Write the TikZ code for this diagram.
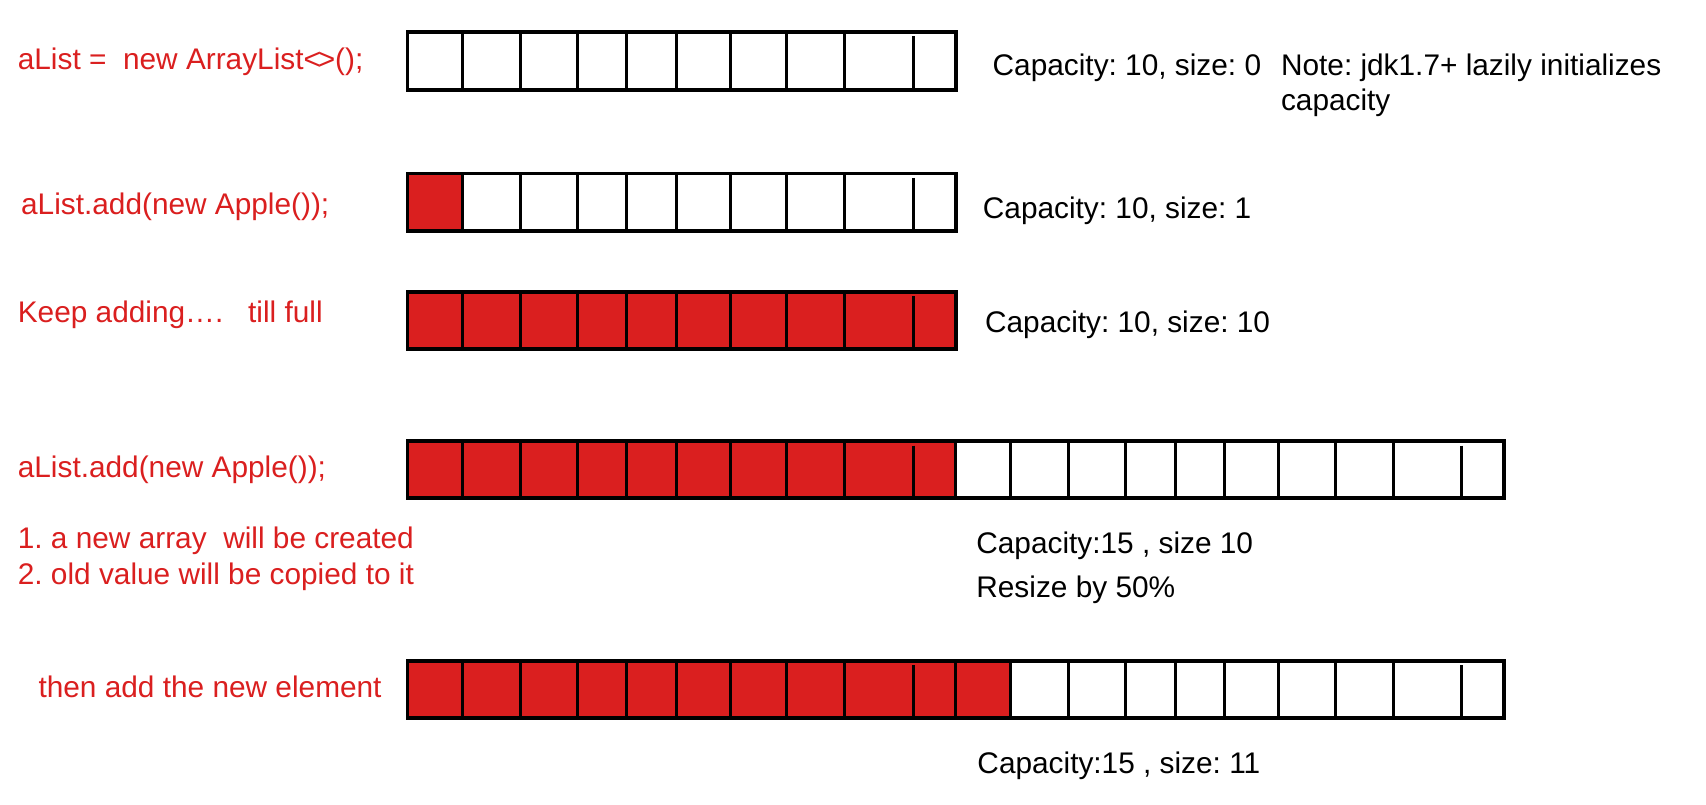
\documentclass[tikz,border=0pt]{standalone}
\usepackage{fontspec}
\setmainfont{Liberation Sans}
\frenchspacing
\definecolor{cred}{RGB}{218,31,31}
\newcommand\fs{\fontsize{13.7}{17}\selectfont}
\def\xs{{374.5,424.95,478.07,530.54,576.05,621.51,671.00,723.12,776.59,839.34,878.5,928.95,982.07,1034.54,1080.05,1125.51,1175.00,1227.12,1280.59,1343.34,1382.5}}
\newcommand\myarr[4]{% #1 top, #2 bottom, #3 cells, #4 red cells
  \pgfmathsetmacro\xred{\xs[#4]}%
  \pgfmathsetmacro\xend{\xs[#3]}%
  \pgfmathtruncatemacro\lastdiv{#3-1}%
  \ifnum#4>0 \fill[cred] (374.5,#1) rectangle (\xred,#2);\fi
  \foreach \i in {1,...,\lastdiv}{%
    \pgfmathsetmacro\xx{\xs[\i]}%
    \pgfmathsetmacro\ytop{(mod(\i,10)==9) ? #1+4 : #1}%
    \draw[divider] (\xx,\ytop) -- (\xx,#2);
  }%
  \draw[outerbox] (374.5,#1) rectangle (\xend,#2);
}
\begin{document}
\begin{tikzpicture}[x=0.5pt,y=-0.5pt,
  divider/.style={line width=1.4pt,black},
  outerbox/.style={line width=1.8pt,black},
  redtxt/.style={text=cred,anchor=base west,inner sep=0pt,font=\fs},
  blktxt/.style={text=black,anchor=base west,inner sep=0pt,font=\fs}]
\useasboundingbox (0,0) rectangle (1568,739);
% arrays
\myarr{29.5}{82.5}{10}{0}
\myarr{159.5}{212.5}{10}{1}
\myarr{268.5}{320.5}{10}{10}
\myarr{405.5}{457.5}{20}{10}
\myarr{607.5}{659.5}{20}{11}
% red labels
\node[redtxt] (l1) at (16,64) {aList =\ \ new ArrayList<\kern-1.5pt>();};
\node[redtxt] (l2) at (19,197) {aList.add(new Apple());};
\node[redtxt] (l3) at (16,296) {Keep adding….\ \ \ till full};
\node[redtxt] (l4) at (16,439) {aList.add(new Apple());};
\node[redtxt] (l5) at (16,504) {1. a new array\ \ will be created};
\node[redtxt] (l6) at (16,537) {2. old value will be copied to it};
\node[redtxt] (l7) at (35,641) {then add the new element};
% black labels
\node[blktxt] (c1) at (912,69) {Capacity: 10, size: 0};
\node[blktxt] (n1) at (1177,69) {Note: jdk1.7+ lazily initializes};
\node[blktxt] (n2) at (1177,102) {capacity};
\node[blktxt] (c2) at (903,201) {Capacity: 10, size: 1};
\node[blktxt] (c3) at (905,306) {Capacity: 10, size: 10};
\node[blktxt] (c4) at (897,509) {Capacity:15 , size 10};
\node[blktxt] (c5) at (897,549) {Resize by 50\%};
\node[blktxt] (c6) at (898,711) {Capacity:15 , size: 11};
\end{tikzpicture}
\end{document}
